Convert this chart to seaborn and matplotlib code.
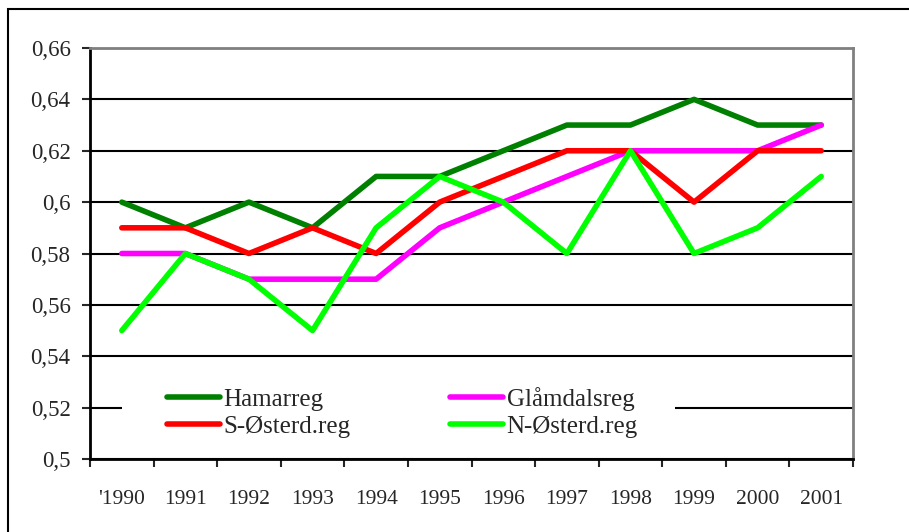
import matplotlib
matplotlib.use("Agg")
import matplotlib.pyplot as plt
from matplotlib.patches import Rectangle
import pandas as pd
import seaborn as sns

# data
years = ["'1990", "1991", "1992", "1993", "1994", "1995",
         "1996", "1997", "1998", "1999", "2000", "2001"]
hamarreg = [0.60, 0.59, 0.60, 0.59, 0.61, 0.61, 0.62, 0.63, 0.63, 0.64, 0.63, 0.63]
glamdalsreg = [0.58, 0.58, 0.57, 0.57, 0.57, 0.59, 0.60, 0.61, 0.62, 0.62, 0.62, 0.63]
s_osterd = [0.59, 0.59, 0.58, 0.59, 0.58, 0.60, 0.61, 0.62, 0.62, 0.60, 0.62, 0.62]
n_osterd = [0.55, 0.58, 0.57, 0.55, 0.59, 0.61, 0.60, 0.58, 0.62, 0.58, 0.59, 0.61]
series_names = ["Hamarreg", "Glåmdalsreg", "S-Østerd.reg", "N-Østerd.reg"]
y_ticks = [0.50, 0.52, 0.54, 0.56, 0.58, 0.60, 0.62, 0.64, 0.66]
y_tick_labels = ["0,5", "0,52", "0,54", "0,56", "0,58", "0,6", "0,62", "0,64", "0,66"]

colors = {"Hamarreg": "#008000", "Glåmdalsreg": "#FF00FF",
          "S-Østerd.reg": "#FF0000", "N-Østerd.reg": "#00FF00"}

rows = []
for name, vals in zip(series_names, [hamarreg, glamdalsreg, s_osterd, n_osterd]):
    for i, v in enumerate(vals):
        rows.append({"pos": i, "value": v, "series": name})
df = pd.DataFrame(rows)

sns.set_style("white")
plt.rcParams["font.family"] = ["Liberation Serif", "DejaVu Serif"]

fig = plt.figure(figsize=(9.09, 5.32), dpi=100)
ax = fig.add_axes([90 / 909, 1 - 459 / 532, 763 / 909, 411 / 532])

sns.lineplot(data=df, x="pos", y="value", hue="series", hue_order=series_names,
             palette=colors, linewidth=4, ax=ax, legend=False, zorder=3)
for ln in ax.get_lines():
    ln.set_solid_capstyle("round")

ax.set_xlim(-0.5, len(years) - 0.5)
ax.set_ylim(0.5, 0.66)
ax.set_xlabel("")
ax.set_ylabel("")

# y axis
ax.set_yticks(y_ticks)
ax.set_yticklabels(y_tick_labels, fontsize=16.5)
ax.tick_params(axis="y", direction="out", length=6, width=1.5, pad=8, left=True)
ax.yaxis.grid(True, color="black", linewidth=1.5)
ax.set_axisbelow(True)

# x axis: ticks at category boundaries, labels at centers
ax.set_xticks([i - 0.5 for i in range(len(years) + 1)])
ax.set_xticklabels([""] * (len(years) + 1))
ax.set_xticks(range(len(years)), minor=True)
ax.set_xticklabels(years, minor=True, fontsize=15.5)
ax.tick_params(axis="x", which="major", direction="out", length=6, width=1.5, bottom=True)
ax.tick_params(axis="x", which="minor", length=0, pad=22)

for side in ["left", "bottom"]:
    ax.spines[side].set_color("black")
    ax.spines[side].set_linewidth(2)
for side in ["top", "right"]:
    ax.spines[side].set_visible(True)
    ax.spines[side].set_color("#808080")
    ax.spines[side].set_linewidth(2)

# white area behind legend hides the gridline
ax.add_patch(Rectangle((0.042, 0.09), 0.725, 0.08, transform=ax.transAxes,
                       facecolor="white", edgecolor="none", zorder=2))

handles = [plt.Line2D([], [], color=colors[n], linewidth=4, solid_capstyle="round")
           for n in series_names]
order = [0, 2, 1, 3]
ax.legend([handles[i] for i in order], [series_names[i] for i in order],
          ncol=2, frameon=False, fontsize=18, loc="upper left",
          bbox_to_anchor=(0.101, 0.176), borderpad=0, borderaxespad=0,
          handlelength=2.1, handletextpad=0.15, columnspacing=4.0,
          labelspacing=0.2)

# outer chart border
fig.add_artist(Rectangle((8 / 909, -0.1), 1.2, (532 - 9) / 532 + 0.1,
                         transform=fig.transFigure, fill=False,
                         edgecolor="black", linewidth=1.5))

fig.savefig("out.png", dpi=100)
